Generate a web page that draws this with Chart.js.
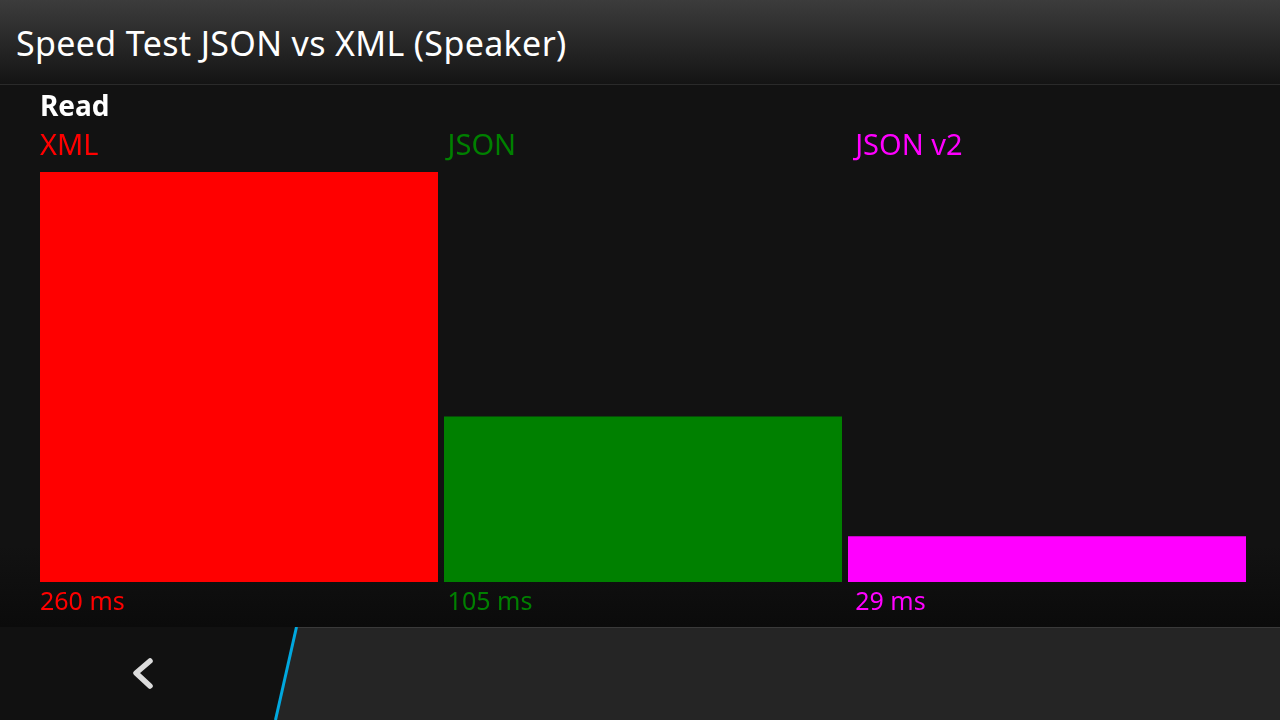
<!DOCTYPE html>
<html>
<head>
<meta charset="utf-8">
<script src="https://cdn.jsdelivr.net/npm/chart.js@4/dist/chart.umd.min.js"></script>
<style>
  html, body { margin:0; padding:0; width:1280px; height:720px; overflow:hidden; background:#121212; font-family:"Noto Sans", sans-serif; }
  #titlebar { position:absolute; left:0; top:0; width:1280px; height:84px;
    background:linear-gradient(#3c3c3c 0%, #2a2a2a 45%, #141414 100%); border-bottom:1px solid #2a2a2a; }
  #title { position:absolute; left:16px; top:21px; color:#fff; font-size:34px; letter-spacing:0.35px; line-height:44px; white-space:nowrap; }
  #body { position:absolute; left:0; top:85px; width:1280px; height:542px;
    background:linear-gradient(#121212 0%, #121212 85%, #0b0b0b 100%); }
  #bottom { position:absolute; left:0; top:627px; width:1280px; height:93px; }
  #chart { position:absolute; left:0; top:0; }
</style>
</head>
<body>
<div id="titlebar"><div id="title">Speed Test JSON vs XML (Speaker)</div></div>
<div id="body"></div>
<svg id="bottom" width="1280" height="93" viewBox="0 627 1280 93">
  <rect x="0" y="627" width="1280" height="93" fill="#111111"/>
  <polygon points="297,627 1280,627 1280,720 274,720" fill="#252525"/>
  <line x1="297" y1="627.5" x2="1280" y2="627.5" stroke="#3a3a3a" stroke-width="1"/>
  <line x1="296.5" y1="627" x2="275.5" y2="720" stroke="#00a8df" stroke-width="3"/>
  <polyline points="150,661 136,673 150,686" fill="none" stroke="#dcdcdc" stroke-width="5.5" stroke-linecap="round" stroke-linejoin="round"/>
</svg>
<canvas id="chart" width="1280" height="720"></canvas>
<script>
const sectionTitle = "Read";
const categories = ["XML", "JSON", "JSON v2"];
const values = [260, 105, 29];
const unit = "ms";
const colors = ["#ff0000", "#008000", "#ff00ff"];

const labelPlugin = {
  id: 'labels',
  afterDatasetsDraw(chart) {
    const ctx = chart.ctx;
    const meta = chart.getDatasetMeta(0);
    ctx.save();
    ctx.textBaseline = 'alphabetic';
    ctx.textAlign = 'left';
    ctx.fillStyle = '#ffffff';
    ctx.font = 'bold 28px "Noto Sans"';
    ctx.fillText(sectionTitle, 40, 116);
    meta.data.forEach((bar, i) => {
      const left = bar.x - bar.width / 2 + i * 3.6;
      ctx.fillStyle = colors[i];
      ctx.font = '29px "Noto Sans"';
      ctx.fillText(categories[i], left, 155);
      ctx.font = '25px "Noto Sans"';
      ctx.fillText(values[i] + ' ' + unit, left, 610);
    });
    ctx.restore();
  }
};

new Chart(document.getElementById('chart'), {
  type: 'bar',
  data: {
    labels: categories,
    datasets: [{ data: values, backgroundColor: colors, borderWidth: 0,
      barPercentage: 398/404, categoryPercentage: 1 }]
  },
  options: {
    responsive: false,
    animation: false,
    layout: { padding: { left: 37, right: 31, top: 172, bottom: 138 } },
    scales: {
      x: { display: false },
      y: { display: false, min: 0, max: 260 }
    },
    plugins: { legend: { display: false }, tooltip: { enabled: false } }
  },
  plugins: [labelPlugin]
});
</script>
</body>
</html>
